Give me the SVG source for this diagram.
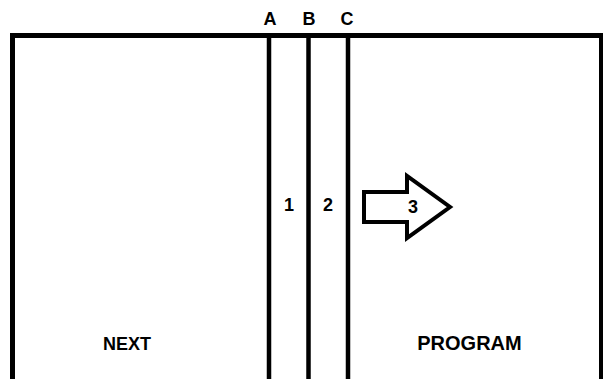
<svg xmlns="http://www.w3.org/2000/svg" width="603" height="379" viewBox="0 0 603 379">
<style>
.t{font-family:"Liberation Sans",Arial,sans-serif;font-weight:bold;font-size:18px;fill:#000;text-anchor:middle}
.b{font-size:20px}
.l{stroke:#000;fill:none}
</style>
<rect width="603" height="379" fill="#fff"/>
<g id="frame">
<path class="l" stroke-width="5" d="M12.5,379 V35.5 H601.5 V379"/>
</g>
<g id="connectors">
<line class="l" stroke-width="4.5" x1="269" y1="35" x2="269" y2="379"/>
<line class="l" stroke-width="4.5" x1="308.5" y1="35" x2="308.5" y2="379"/>
<line class="l" stroke-width="4.5" x1="348" y1="35" x2="348" y2="379"/>
</g>
<g id="labels-top">
<text class="t" x="270" y="25">A</text>
<text class="t" x="309" y="25">B</text>
<text class="t" x="347" y="25">C</text>
</g>
<g id="next"><text class="t" x="127" y="350">NEXT</text></g>
<g id="program"><text class="t b" x="469.5" y="350">PROGRAM</text></g>
<g id="n1"><text class="t" x="289" y="211">1</text></g>
<g id="n2"><text class="t" x="328" y="211">2</text></g>
<g id="arrow">
<path class="l" stroke-width="4" stroke-linejoin="miter" d="M364,192 H407 V176 L450,207 L407,238 V222 H364 Z"/>
<text class="t" x="413" y="213">3</text>
</g>
</svg>
